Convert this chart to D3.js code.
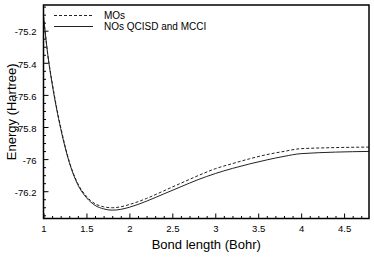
<!DOCTYPE html>
<html><head><meta charset="utf-8">
<script src="https://cdn.jsdelivr.net/npm/d3@7"></script>
<style>body{margin:0;background:#fff}svg{display:block}text{font-family:"Liberation Sans",Arial,sans-serif;fill:#000}</style>
</head><body>
<script>
const bondLength = [1.0,1.05,1.1,1.15,1.2,1.3,1.4,1.5,1.6,1.7,1.8,1.9,2.0,2.2,2.4,2.6,2.8,3.0,3.2,3.4,3.6,3.8,4.0,4.8];
const energyMOs = [-75.11,-75.35,-75.52,-75.67,-75.80,-76.015,-76.153,-76.232,-76.278,-76.297,-76.303,-76.297,-76.283,-76.245,-76.198,-76.15,-76.103,-76.06,-76.028,-75.998,-75.972,-75.952,-75.935,-75.925];
const energyNOs = [-75.11,-75.35,-75.53,-75.68,-75.81,-76.02,-76.16,-76.24,-76.288,-76.31,-76.318,-76.313,-76.30,-76.262,-76.217,-76.172,-76.128,-76.09,-76.058,-76.03,-76.005,-75.983,-75.966,-75.952];
const xTicks = [1,1.5,2,2.5,3,3.5,4,4.5];
const xTickLabels = ["1","1.5","2","2.5","3","3.5","4","4.5"];
const yTicks = [-75.2,-75.4,-75.6,-75.8,-76,-76.2];
const yTickLabels = ["-75.2","-75.4","-75.6","-75.8","-76","-76.2"];
const seriesNames = ["MOs","NOs QCISD and MCCI"];

const W=374,H=264;
const m={l:43.5,r:369,t:5,b:218.5};
const svg=d3.select("body").append("svg").attr("width",W).attr("height",H);
const x=d3.scaleLinear().domain([1,4.79]).range([m.l,m.r]);
const y=d3.scaleLinear().domain([-76.37,-75.04]).range([m.b,m.t]);

const xMinor=d3.range(10,48).map(d=>d/10).filter(v=>Math.abs(v*2-Math.round(v*2))>1e-6);
const yMinor=d3.range(-7635,-7504,5).map(d=>d/100).filter(v=>Math.abs(v*5-Math.round(v*5))>1e-6);

const gx=svg.append("g").attr("transform",`translate(0,${m.b})`)
  .call(d3.axisBottom(x).tickValues(xTicks).tickFormat((d,i)=>xTickLabels[i]).tickSizeInner(-5).tickSizeOuter(0).tickPadding(6.5));
gx.select(".domain").remove();
gx.selectAll("text").attr("font-size",9.5);
svg.append("g").attr("transform",`translate(0,${m.b})`)
  .call(d3.axisBottom(x).tickValues(xMinor).tickFormat("").tickSizeInner(-2.5).tickSizeOuter(0))
  .select(".domain").remove();

const gy=svg.append("g").attr("transform",`translate(${m.l},0)`)
  .call(d3.axisLeft(y).tickValues(yTicks).tickFormat((d,i)=>yTickLabels[i]).tickSizeInner(-5).tickSizeOuter(0).tickPadding(7));
gy.select(".domain").remove();
gy.selectAll("text").attr("font-size",9.5).attr("dy","0.45em");
svg.append("g").attr("transform",`translate(${m.l},0)`)
  .call(d3.axisLeft(y).tickValues(yMinor).tickFormat("").tickSizeInner(-2.5).tickSizeOuter(0))
  .select(".domain").remove();
svg.selectAll(".tick line").attr("stroke","#000").attr("stroke-width",1);

svg.append("clipPath").attr("id","c").append("rect").attr("x",m.l).attr("y",m.t).attr("width",m.r-m.l).attr("height",m.b-m.t);
const line=d3.line().x(d=>x(d[0])).y(d=>y(d[1])).curve(d3.curveMonotoneX);
svg.append("path").datum(bondLength.map((b,i)=>[b,energyMOs[i]])).attr("clip-path","url(#c)")
  .attr("d",line).attr("fill","none").attr("stroke","#222").attr("stroke-width",1).attr("stroke-dasharray","3,2");
svg.append("path").datum(bondLength.map((b,i)=>[b,energyNOs[i]])).attr("clip-path","url(#c)")
  .attr("d",line).attr("fill","none").attr("stroke","#222").attr("stroke-width",1);

svg.append("rect").attr("x",m.l).attr("y",m.t).attr("width",m.r-m.l).attr("height",m.b-m.t)
  .attr("fill","none").attr("stroke","#000").attr("stroke-width",1.5);

const lg=svg.append("g");
[0,1].forEach(i=>{
  const yy=15.5+i*11;
  lg.append("line").attr("x1",54).attr("x2",93).attr("y1",yy).attr("y2",yy).attr("stroke","#222").attr("stroke-width",1)
    .attr("stroke-dasharray",i===0?"3,2":null);
  lg.append("text").attr("x",104).attr("y",yy+3.5).attr("font-size",10).text(seriesNames[i]);
});

svg.append("text").attr("x",(m.l+m.r)/2).attr("y",249).attr("text-anchor","middle").attr("font-size",13).text("Bond length (Bohr)");
svg.append("text").attr("transform",`translate(16,${(m.t+m.b)/2}) rotate(-90)`).attr("text-anchor","middle").attr("font-size",13).text("Energy (Hartree)");
</script>
</body></html>
